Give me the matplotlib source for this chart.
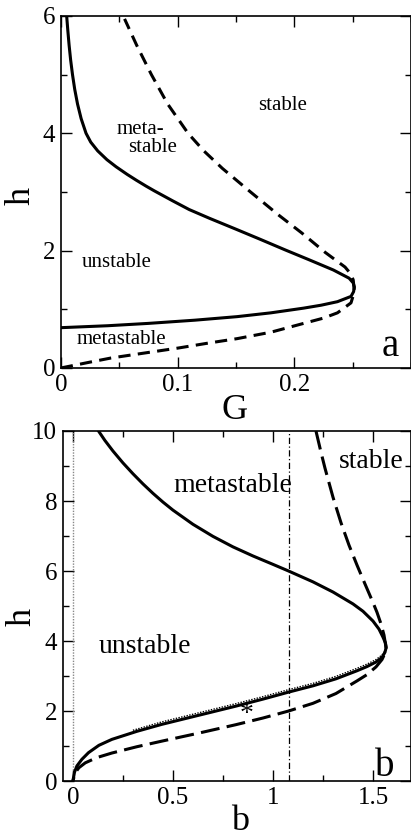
import matplotlib
matplotlib.use('Agg')
import matplotlib.pyplot as plt
from matplotlib.ticker import MultipleLocator

plt.rcParams['font.family'] = ['Liberation Serif', 'DejaVu Serif']

# panel a: h versus G
G_solid = [0.005, 0.006, 0.0071, 0.0084, 0.0100, 0.0119, 0.0143, 0.0174, 0.0216, 0.0256,
           0.0316, 0.0395, 0.0473, 0.0568, 0.0647, 0.073, 0.080, 0.0957, 0.110, 0.1275,
           0.1495, 0.170, 0.1925, 0.212, 0.2335, 0.247, 0.2505, 0.2515, 0.2508, 0.2486,
           0.237, 0.223, 0.208, 0.180, 0.151, 0.115, 0.075, 0.040, 0.0]
h_solid = [6.0, 5.75, 5.5, 5.25, 5.0, 4.75, 4.5, 4.25, 4.0, 3.85,
           3.7, 3.55, 3.43, 3.3, 3.2, 3.1, 3.02, 2.85, 2.7, 2.55,
           2.37, 2.2, 2.01, 1.85, 1.67, 1.53, 1.45, 1.38, 1.30, 1.22,
           1.13, 1.07, 1.02, 0.94, 0.875, 0.815, 0.76, 0.72, 0.687]

G_dash = [0.0, 0.010, 0.025, 0.043, 0.070, 0.1006, 0.125, 0.151, 0.180, 0.208,
          0.225, 0.237, 0.2486, 0.2515, 0.2505, 0.2485, 0.2435, 0.2265, 0.2065, 0.187,
          0.1625, 0.1385, 0.1225, 0.109, 0.0915, 0.0776, 0.065, 0.0546]
h_dash = [0.0, 0.04, 0.10, 0.17, 0.25, 0.34, 0.42, 0.50, 0.61, 0.76,
          0.85, 0.94, 1.11, 1.30, 1.50, 1.60, 1.72, 1.97, 2.30, 2.60,
          3.00, 3.40, 3.70, 4.00, 4.50, 5.00, 5.50, 5.95]

# panel b: h versus b
b_solid = [0.128, 0.16, 0.20, 0.25, 0.30, 0.35, 0.40, 0.45, 0.50, 0.60,
           0.70, 0.80, 0.90, 1.00, 1.078, 1.20, 1.30, 1.40, 1.45, 1.50,
           1.53, 1.55, 1.562, 1.566, 1.56, 1.545, 1.515, 1.47, 1.42, 1.315,
           1.20, 1.078, 0.95, 0.815, 0.63, 0.445, 0.32, 0.195, 0.13, 0.078,
           0.045, 0.02, 0.008, 0.0]
hb_solid = [10.0, 9.73, 9.43, 9.09, 8.78, 8.49, 8.22, 7.97, 7.74, 7.335,
            6.99, 6.69, 6.43, 6.19, 6.0, 5.69, 5.40, 5.06, 4.85, 4.57,
            4.34, 4.11, 3.95, 3.82, 3.68, 3.53, 3.40, 3.27, 3.15, 2.92,
            2.72, 2.54, 2.34, 2.14, 1.88, 1.62, 1.42, 1.19, 1.02, 0.81,
            0.62, 0.43, 0.25, 0.0]

b_dot = [0.30, 0.445, 0.63, 0.815, 0.95, 1.078, 1.20, 1.315, 1.42, 1.47, 1.515, 1.545, 1.56]
hb_dot = [1.45, 1.69, 1.95, 2.21, 2.41, 2.61, 2.79, 2.99, 3.22, 3.34, 3.47, 3.60, 3.72]

b_dash = [1.215, 1.24, 1.26, 1.30, 1.34, 1.38, 1.42, 1.46, 1.50, 1.52,
          1.54, 1.555, 1.563, 1.565, 1.56, 1.545, 1.515, 1.47, 1.42, 1.315,
          1.20, 1.078, 0.95, 0.815, 0.63, 0.445, 0.32, 0.195, 0.12, 0.062,
          0.03, 0.012, 0.0]
hb_dash = [10.0, 9.395, 8.94, 8.11, 7.38, 6.74, 6.17, 5.63, 5.10, 4.82,
           4.49, 4.17, 3.89, 3.80, 3.65, 3.47, 3.26, 3.04, 2.86, 2.50,
           2.22, 2.0, 1.80, 1.61, 1.37, 1.14, 0.98, 0.80, 0.67, 0.52,
           0.38, 0.24, 0.0]

b_cut = 1.078
star = (0.87, 1.9)

fig = plt.figure(figsize=(4.11, 8.39), dpi=100)
ax1 = fig.add_axes([0.148, 0.5614, 0.852, 0.4196])
ax2 = fig.add_axes([0.153, 0.0691, 0.847, 0.4172])

lw = 2.2

def style_axes(ax, size):
    ax.tick_params(which='both', direction='in', top=True, right=True,
                   labelsize=size, width=1.0)
    ax.tick_params(which='major', length=8, pad=4)
    ax.tick_params(which='minor', length=4)
    for s in ax.spines.values():
        s.set_linewidth(1.2)

def place_labels(ax, xpos, ypos):
    ax.xaxis.set_label_coords(*xpos)
    ax.yaxis.set_label_coords(*ypos)
    for lab in (ax.xaxis.label, ax.yaxis.label):
        lab.set_va('center')
        lab.set_ha('center')

ax1.plot(G_solid, h_solid, color='black', lw=lw, solid_joinstyle='round')
ax1.plot(G_dash, h_dash, color='black', lw=lw, linestyle=(0, (4, 2.4)))
ax1.set_xlim(0, 0.3)
ax1.set_ylim(0, 6)
ax1.xaxis.set_minor_locator(MultipleLocator(0.05))
ax1.yaxis.set_major_locator(MultipleLocator(2))
ax1.yaxis.set_minor_locator(MultipleLocator(1))
ax1.set_xticks([0, 0.1, 0.2])
ax1.set_xticklabels(['0', '0.1', '0.2'])
style_axes(ax1, 18)
ax1.set_xlabel('G', fontsize=26)
ax1.set_ylabel('h', fontsize=26)
place_labels(ax1, (0.495, -0.12), (-0.112, 0.49))

ax1.text(0.19, 4.47, 'stable', fontsize=15, ha='center', va='center')
ax1.text(0.068, 4.06, 'meta-', fontsize=15, ha='center', va='center')
ax1.text(0.0785, 3.75, 'stable', fontsize=15, ha='center', va='center')
ax1.text(0.048, 1.79, 'unstable', fontsize=15, ha='center', va='center')
ax1.text(0.052, 0.48, 'metastable', fontsize=15, ha='center', va='center')
ax1.text(0.282, 0.36, 'a', fontsize=28, ha='center', va='center')

ax2.axvline(0, color='#888888', lw=1.0, linestyle=(0, (1, 1)))
ax2.axvline(b_cut, color='black', lw=0.9, linestyle=(0, (5, 2, 1, 2)))
ax2.plot(b_dot, hb_dot, color='black', lw=1.0, linestyle=(0, (1, 1)))
ax2.plot(b_solid, hb_solid, color='black', lw=lw, solid_joinstyle='round')
ax2.plot(b_dash, hb_dash, color='black', lw=lw, linestyle=(0, (6.2, 2.4)))
ax2.set_xlim(-0.05, 1.69)
ax2.set_ylim(0, 10)
ax2.xaxis.set_minor_locator(MultipleLocator(0.25))
ax2.yaxis.set_major_locator(MultipleLocator(2))
ax2.yaxis.set_minor_locator(MultipleLocator(1))
ax2.set_xticks([0, 0.5, 1, 1.5])
ax2.set_xticklabels(['0', '0.5', '1', '1.5'])
style_axes(ax2, 18)
ax2.set_xlabel('b', fontsize=26)
ax2.set_ylabel('h', fontsize=26)
place_labels(ax2, (0.51, -0.115), (-0.118, 0.47))

ax2.text(0.80, 8.45, 'metastable', fontsize=20, ha='center', va='center')
ax2.text(1.49, 9.14, 'stable', fontsize=20, ha='center', va='center')
ax2.text(0.36, 3.85, 'unstable', fontsize=20, ha='center', va='center')
ax2.text(star[0], star[1], '*', fontsize=20, ha='center', va='center')
ax2.text(1.56, 0.42, 'b', fontsize=28, ha='center', va='center')

fig.savefig('out.png', dpi=100)
